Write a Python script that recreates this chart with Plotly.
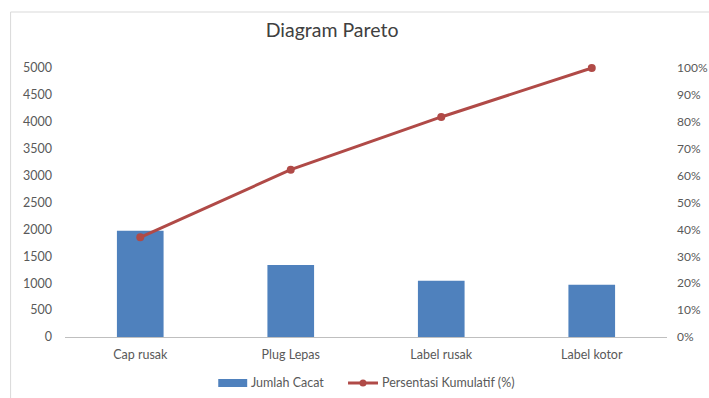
import plotly.graph_objects as go

# Pareto data: defect categories and counts
categories = ["Cap rusak", "Plug Lepas", "Label rusak", "Label kotor"]
jumlah_cacat = [1975, 1340, 1045, 970]
series_names = ["Jumlah Cacat", "Persentasi Kumulatif (%)"]

# cumulative share of defects (fraction of total)
total = sum(jumlah_cacat)
kumulatif = []
running = 0
for v in jumlah_cacat:
    running += v
    kumulatif.append(running / total)

left_ticks = [0, 500, 1000, 1500, 2000, 2500, 3000, 3500, 4000, 4500, 5000]
right_ticks = [i / 10 for i in range(11)]
right_labels = [f"{i * 10}%" for i in range(11)]

font_family = "Lato, 'Open Sans', sans-serif"
tick_color = "#595959"
bar_color = "#4F81BD"
line_color = "#B04A47"

W, H = 709, 398
ml, mr, mt, mb = 64.5, 41.5, 68, 61
pw, ph = W - ml - mr, H - mt - mb


def px_x(p):
    return (p - ml) / pw


def px_y(p):
    return (H - mb - p) / ph


fig = go.Figure()
fig.add_trace(go.Bar(
    x=categories, y=jumlah_cacat, name=series_names[0],
    marker=dict(color=bar_color, line=dict(width=0)),
    width=0.31, yaxis="y", showlegend=False,
))
fig.add_trace(go.Scatter(
    x=categories, y=kumulatif, name=series_names[1],
    mode="lines+markers", yaxis="y2", cliponaxis=False, showlegend=False,
    line=dict(color=line_color, width=3),
    marker=dict(color=line_color, size=8),
))

# legend drawn below the plot: wide bar swatch and line-with-marker swatch
legend_y = 383
shapes = [
    dict(type="rect", xref="paper", yref="paper",
         x0=px_x(10), x1=px_x(720), y0=px_y(410), y1=px_y(12),
         line=dict(color="#D9D9D9", width=1), layer="below"),
    dict(type="rect", xref="paper", yref="paper",
         x0=px_x(218), x1=px_x(247), y0=px_y(legend_y + 4), y1=px_y(legend_y - 4),
         fillcolor=bar_color, line=dict(width=0)),
    dict(type="line", xref="paper", yref="paper",
         x0=px_x(348), x1=px_x(378), y0=px_y(legend_y), y1=px_y(legend_y),
         line=dict(color=line_color, width=3)),
    dict(type="circle", xref="paper", yref="paper",
         x0=px_x(359.5), x1=px_x(366.5), y0=px_y(legend_y + 3.5), y1=px_y(legend_y - 3.5),
         fillcolor=line_color, line=dict(width=0)),
]
annotations = [
    dict(text=series_names[0], xref="paper", yref="paper", x=px_x(249), y=px_y(legend_y),
         xanchor="left", yanchor="middle", showarrow=False,
         font=dict(size=12.5, color=tick_color, family=font_family)),
    dict(text=series_names[1], xref="paper", yref="paper", x=px_x(380), y=px_y(legend_y),
         xanchor="left", yanchor="middle", showarrow=False,
         font=dict(size=12.5, color=tick_color, family=font_family)),
]

fig.update_layout(
    width=W, height=H,
    margin=dict(l=ml, r=mr, t=mt, b=mb, pad=0, autoexpand=False),
    paper_bgcolor="white", plot_bgcolor="white",
    font=dict(family=font_family, color=tick_color, size=12),
    title=dict(text="Diagram Pareto", x=px_x(332), xref="paper",
               xanchor="center", y=1 - 30 / H, yanchor="middle",
               font=dict(size=19.5, color="#404040", family=font_family)),
    bargap=0.69,
    xaxis=dict(showgrid=False, showline=True, linecolor="#BFBFBF", linewidth=1,
               ticks="", tickfont=dict(size=12.5, color=tick_color),
               ticklabelstandoff=6, automargin=False),
    yaxis=dict(range=[0, 5000], tickvals=left_ticks, showgrid=False,
               showline=False, zeroline=False, ticks="",
               tickfont=dict(size=12.5, color=tick_color),
               ticklabelstandoff=12, automargin=False),
    yaxis2=dict(range=[0, 1], tickvals=right_ticks, ticktext=right_labels,
                overlaying="y", side="right", showgrid=False, showline=False,
                zeroline=False, ticks="",
                tickfont=dict(size=12, color=tick_color),
                ticklabelstandoff=9, automargin=False),
    showlegend=False,
    shapes=shapes,
    annotations=annotations,
)

fig.write_html("out.html")
